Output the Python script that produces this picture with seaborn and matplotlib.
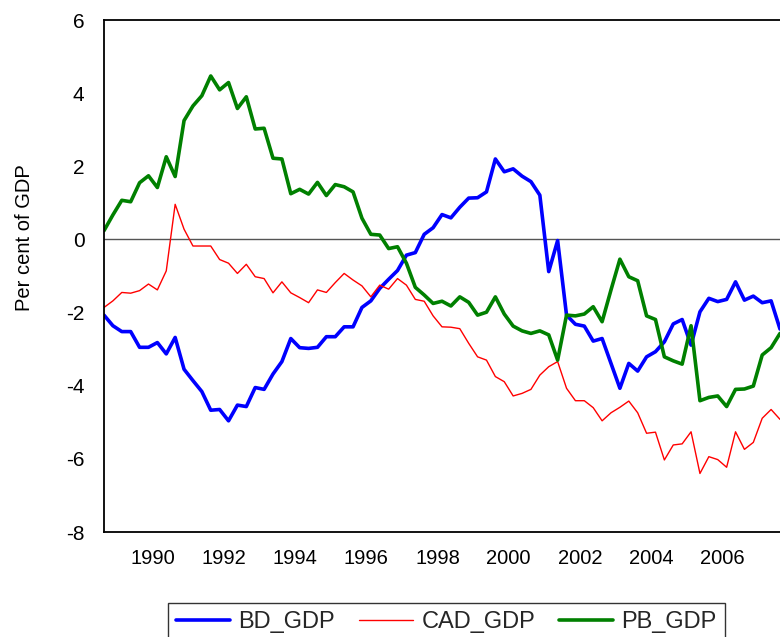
import numpy as np
import pandas as pd
import matplotlib
matplotlib.use("Agg")
import matplotlib.pyplot as plt
from matplotlib.ticker import FixedLocator, NullFormatter
import seaborn as sns

# Quarterly series, 1989Q1 - 2008Q1 (per cent of GDP)
START_YEAR = 1989

bd_gdp = [-2.07, -2.36, -2.52, -2.52, -2.95, -2.95, -2.82, -3.13, -2.68, -3.55,
          -3.86, -4.16, -4.67, -4.65, -4.96, -4.53, -4.57, -4.05, -4.10, -3.68,
          -3.34, -2.71, -2.96, -2.98, -2.95, -2.66, -2.66, -2.39, -2.39, -1.86,
          -1.68, -1.34, -1.09, -0.85, -0.43, -0.36, 0.14, 0.32, 0.68, 0.59,
          0.88, 1.13, 1.14, 1.30, 2.20, 1.85, 1.93, 1.73, 1.58, 1.21,
          -0.88, -0.03, -2.07, -2.32, -2.37, -2.78, -2.71, -3.39, -4.07, -3.39,
          -3.60, -3.21, -3.07, -2.80, -2.31, -2.19, -2.89, -1.98, -1.61, -1.70,
          -1.64, -1.16, -1.66, -1.55, -1.73, -1.68, -2.45]

cad_gdp = [-1.86, -1.68, -1.45, -1.47, -1.40, -1.22, -1.38, -0.86, 0.96, 0.28,
           -0.18, -0.18, -0.18, -0.55, -0.65, -0.93, -0.68, -1.02, -1.07, -1.46,
           -1.16, -1.46, -1.59, -1.73, -1.38, -1.45, -1.18, -0.93, -1.11, -1.27,
           -1.57, -1.25, -1.36, -1.07, -1.25, -1.64, -1.69, -2.09, -2.39, -2.40,
           -2.44, -2.84, -3.21, -3.30, -3.75, -3.89, -4.28, -4.21, -4.10, -3.71,
           -3.48, -3.34, -4.07, -4.41, -4.41, -4.60, -4.96, -4.74, -4.59, -4.42,
           -4.74, -5.30, -5.27, -6.03, -5.62, -5.59, -5.26, -6.40, -5.94, -6.02,
           -6.23, -5.26, -5.74, -5.55, -4.89, -4.65, -4.92]

pb_gdp = [0.24, 0.67, 1.07, 1.03, 1.55, 1.74, 1.42, 2.26, 1.72, 3.25,
          3.65, 3.93, 4.47, 4.09, 4.29, 3.58, 3.90, 3.02, 3.04, 2.22,
          2.20, 1.25, 1.37, 1.24, 1.56, 1.20, 1.50, 1.44, 1.30, 0.58,
          0.14, 0.12, -0.25, -0.20, -0.65, -1.31, -1.52, -1.75, -1.69, -1.82,
          -1.57, -1.72, -2.07, -1.99, -1.57, -2.04, -2.37, -2.50, -2.57, -2.50,
          -2.61, -3.30, -2.07, -2.09, -2.04, -1.84, -2.25, -1.38, -0.54, -1.02,
          -1.13, -2.09, -2.19, -3.21, -3.32, -3.41, -2.36, -4.41, -4.32, -4.28,
          -4.57, -4.10, -4.09, -4.01, -3.16, -2.96, -2.57]

series_names = ["BD_GDP", "CAD_GDP", "PB_GDP"]
series_colors = {"BD_GDP": "#0000ff", "CAD_GDP": "#ff0000", "PB_GDP": "#008000"}
series_widths = {"BD_GDP": 2.6, "CAD_GDP": 1.0, "PB_GDP": 2.6}

year_ticks = list(range(1989, 2009))
label_years = list(range(1990, 2007, 2))

# time axis in fractional years (one step per quarter)
t = START_YEAR + np.arange(len(bd_gdp)) / 4.0
df = pd.DataFrame({"t": t, "BD_GDP": bd_gdp, "CAD_GDP": cad_gdp, "PB_GDP": pb_gdp})
long_df = df.melt(id_vars="t", var_name="series", value_name="value")

sns.set_style("white")
plt.rcParams["font.family"] = ["Liberation Sans", "DejaVu Sans"]

fig = plt.figure(figsize=(7.8, 6.37), dpi=100)
ax = fig.add_axes([104 / 780, 1 - 532 / 637, 676 / 780, 512 / 637])

for name in series_names:
    sns.lineplot(data=long_df[long_df["series"] == name], x="t", y="value",
                 color=series_colors[name], linewidth=series_widths[name],
                 ax=ax, label=name, legend=False)

ax.axhline(0, color="#555555", linewidth=1.0, zorder=0)

ax.set_xlim(1989, 2008)
ax.set_ylim(-8, 6)
ax.set_yticks(range(-8, 7, 2))
ax.set_yticklabels([str(v) for v in range(-8, 7, 2)])

# tick marks at year boundaries, labels centred on the year's quarters
ax.xaxis.set_major_locator(FixedLocator(year_ticks))
ax.xaxis.set_major_formatter(NullFormatter())
ax.xaxis.set_minor_locator(FixedLocator([y + 0.375 for y in label_years]))
ax.set_xticklabels([str(y) for y in label_years], minor=True)
ax.tick_params(axis="x", which="major", length=9, width=1.0, color="black", direction="out")
ax.tick_params(axis="x", which="minor", length=0, pad=12, labelsize=14.5, labelcolor="black")
ax.tick_params(axis="y", which="major", length=10, width=1.0, color="#777777",
               direction="out", pad=4, labelsize=15, labelcolor="black")

for side in ["left", "top", "bottom"]:
    ax.spines[side].set_color("black")
    ax.spines[side].set_linewidth(1.3)
ax.spines["right"].set_visible(False)

ax.set_xlabel("")
ax.set_ylabel("Per cent of GDP", fontsize=14.5, color="black")
ax.yaxis.set_label_coords(-0.103, 0.574)

handles, labels = ax.get_legend_handles_labels()
leg = fig.legend(handles, labels, loc="upper center", bbox_to_anchor=(0.572, 1 - 603 / 637),
                 ncol=3, frameon=True, fancybox=False, fontsize=17,
                 handlelength=2.3, handletextpad=0.35, columnspacing=1.0,
                 borderpad=0.35, borderaxespad=0)
leg.get_frame().set_edgecolor("black")
leg.get_frame().set_linewidth(1.0)

fig.savefig("out.png", dpi=100)
